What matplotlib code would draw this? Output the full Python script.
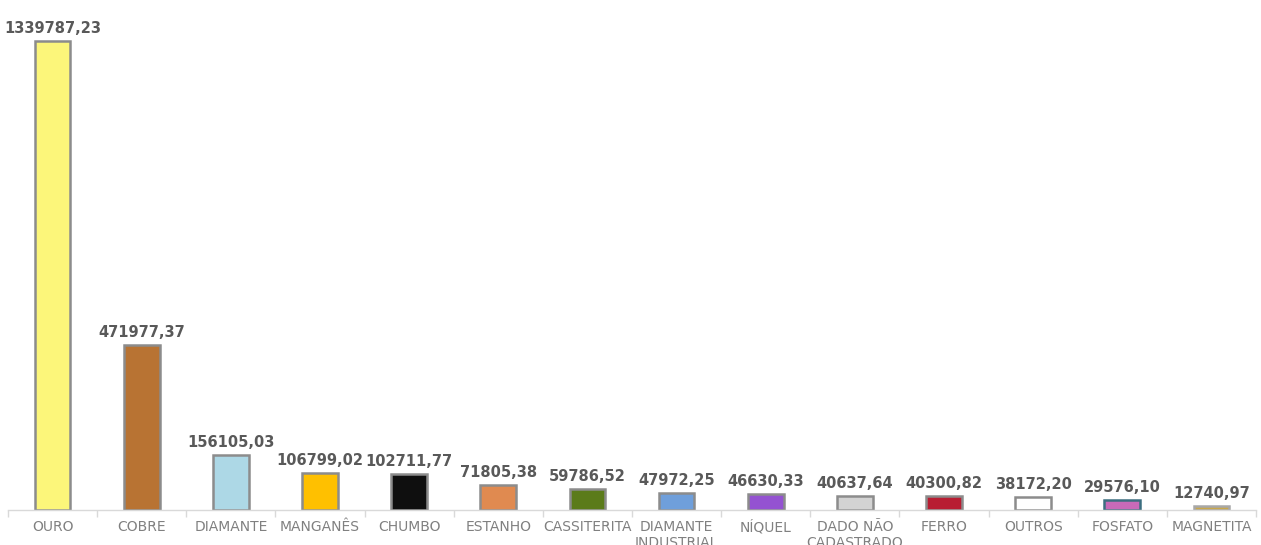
import matplotlib
matplotlib.use("Agg")
import matplotlib.pyplot as plt

categorias = ["OURO", "COBRE", "DIAMANTE", "MANGANÊS", "CHUMBO", "ESTANHO",
              "CASSITERITA", "DIAMANTE\nINDUSTRIAL", "NÍQUEL", "DADO NÃO\nCADASTRADO",
              "FERRO", "OUTROS", "FOSFATO", "MAGNETITA"]
valores = [1339787.23, 471977.37, 156105.03, 106799.02, 102711.77, 71805.38,
           59786.52, 47972.25, 46630.33, 40637.64, 40300.82, 38172.20,
           29576.10, 12740.97]
cores = ["#FCF67A", "#B87333", "#ADD8E6", "#FFC000", "#0F0F0F", "#E08A50",
         "#5B7B1A", "#6F9FDB", "#9452D1", "#D3D3D3", "#B81D32", "#FFFFFF",
         "#C86AB8", "#C9A74A"]
bordas = ["#8C8C8C"] * 12 + ["#3C6E80", "#A8A8A8"]

fig = plt.figure(figsize=(12.61, 5.45), dpi=100)
ax = fig.add_axes([8 / 1261, 35 / 545, 1248 / 1261, 510 / 545])

x = range(len(categorias))
ax.bar(x, valores, width=0.4, color=cores, edgecolor=bordas, linewidth=1.8)

for i, v in enumerate(valores):
    txt = f"{v:.2f}".replace(".", ",")
    ax.text(i, v + 14000, txt, ha="center", va="bottom", fontsize=10.5,
            fontweight="bold", color="#595959")

ax.set_xlim(-0.5, len(categorias) - 0.5)
ax.set_ylim(0, 1339787.23 * 510 / 469)

ax.set_xticks(list(x))
ax.set_xticklabels(categorias, fontsize=10, color="#808080", linespacing=1.25)
ax.tick_params(axis="x", length=0, pad=7)
ax.set_xticks([i - 0.5 for i in range(len(categorias) + 1)], minor=True)
ax.tick_params(axis="x", which="minor", length=5, color="#D9D9D9", width=1)

ax.set_yticks([])
for s in ["top", "right", "left"]:
    ax.spines[s].set_visible(False)
ax.spines["bottom"].set_color("#D9D9D9")
ax.spines["bottom"].set_linewidth(1)

fig.savefig("out.png", dpi=100)
